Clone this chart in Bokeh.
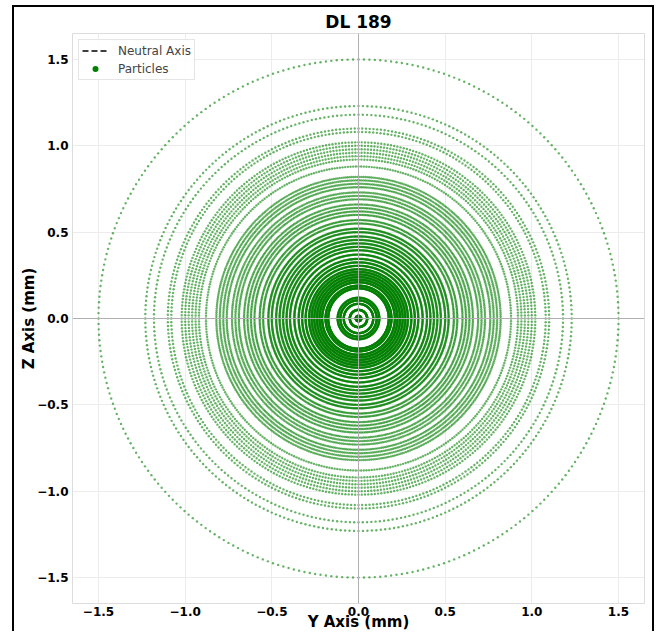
import numpy as np
from bokeh.plotting import figure
from bokeh.models import Span, Range1d, FixedTicker, Legend, LegendItem
from bokeh.embed import file_html
from bokeh.resources import INLINE

title_text = "DL 189"
x_label = "Y Axis (mm)"
y_label = "Z Axis (mm)"
tick_values = [-1.5, -1.0, -0.5, 0.0, 0.5, 1.0, 1.5]
tick_labels = ["\u22121.5", "\u22121.0", "\u22120.5", "0.0", "0.5", "1.0", "1.5"]

# radii (mm) of the concentric particle rings and particles per ring
ring_radii = [1.50, 1.23, 1.18, 1.10, 1.08, 1.02, 1.00, 0.98, 0.96, 0.94,
              0.92, 0.88, 0.82, 0.80, 0.78, 0.76, 0.73, 0.71, 0.69, 0.66,
              0.64, 0.62, 0.60, 0.57, 0.55, 0.52, 0.50, 0.475, 0.455, 0.435,
              0.415, 0.395, 0.37, 0.345, 0.325, 0.305, 0.285, 0.27, 0.255, 0.24,
              0.225, 0.21, 0.19, 0.175, 0.12, 0.105, 0.085, 0.05, 0.015]
ring_points = [300, 300, 300, 320, 320, 340, 340, 340, 340, 340,
               340, 360, 450, 450, 450, 450, 420, 420, 420, 420,
               420, 420, 420, 450, 450, 600, 600, 600, 600, 600,
               600, 600, 600, 600, 600, 600, 600, 600, 600, 600,
               600, 600, 600, 600, 300, 300, 300, 300, 200]

xs, ys = [], []
for r, n in zip(ring_radii, ring_points):
    th = np.linspace(0, 2 * np.pi, n, endpoint=False)
    xs.append(r * np.cos(th))
    ys.append(r * np.sin(th))
xs = np.concatenate(xs)
ys = np.concatenate(ys)

p = figure(width=642, height=626, output_backend="svg", toolbar_location=None,
           x_range=Range1d(-1.65, 1.65), y_range=Range1d(-1.65, 1.65),
           min_border_left=58, min_border_right=12, min_border_top=25, min_border_bottom=20,
           margin=(5, 0, 0, 12))
p.styles = {"border-top": "2px solid black", "border-left": "2px solid black",
            "border-right": "2px solid black"}

p.title.text = title_text
p.title.align = "center"
p.title.text_font = "DejaVu Sans"
p.title.text_font_size = "17px"
p.title.text_font_style = "bold"
p.title.text_color = "black"
p.title.standoff = 4

p.outline_line_color = "#dcdcdc"
p.grid.grid_line_color = "#ececec"
p.xgrid.ticker = FixedTicker(ticks=tick_values)
p.ygrid.ticker = FixedTicker(ticks=tick_values)

for ax, lab in ((p.xaxis, x_label), (p.yaxis, y_label)):
    ax.ticker = FixedTicker(ticks=tick_values)
    ax.major_label_overrides = {v: t for v, t in zip(tick_values, tick_labels)}
    ax.axis_label = lab
    ax.axis_line_color = None
    ax.major_tick_line_color = None
    ax.minor_tick_line_color = None
    ax.major_label_text_font = "DejaVu Sans"
    ax.major_label_text_font_style = "bold"
    ax.major_label_text_font_size = "12px"
    ax.major_label_text_color = "black"
    ax.axis_label_text_font = "DejaVu Sans"
    ax.axis_label_text_font_style = "bold"
    ax.axis_label_text_font_size = "15px"
    ax.axis_label_text_color = "black"

p.yaxis.major_label_standoff = -2
p.yaxis.axis_label_standoff = -4
p.xaxis.major_label_standoff = -3
p.xaxis.axis_label_standoff = -6

p.add_layout(Span(location=0, dimension="width", line_color="#b0b0b0", line_width=1))
p.add_layout(Span(location=0, dimension="height", line_color="#b0b0b0", line_width=1))

p.scatter(xs, ys, size=2.4, fill_color="green", fill_alpha=0.6, line_color=None)

# legend-only glyphs placed outside the visible range
leg_line = p.line([10, 11], [10, 10], line_color="black", line_width=1.6, line_dash="6 3")
leg_dot = p.scatter([10], [10], size=4, fill_color="green", line_color=None)

legend = Legend(items=[LegendItem(label="Neutral Axis", renderers=[leg_line]),
                       LegendItem(label="Particles", renderers=[leg_dot])],
                location="top_left")
legend.margin = 6
legend.padding = 3
legend.spacing = 3
legend.glyph_width = 26
legend.glyph_height = 15
legend.label_height = 15
legend.label_standoff = 10
legend.label_text_font = "DejaVu Sans"
legend.label_text_font_size = "12px"
legend.border_line_color = "#cccccc"
legend.background_fill_alpha = 0.9
p.add_layout(legend)

open("out.html", "w").write(file_html(p, INLINE))
